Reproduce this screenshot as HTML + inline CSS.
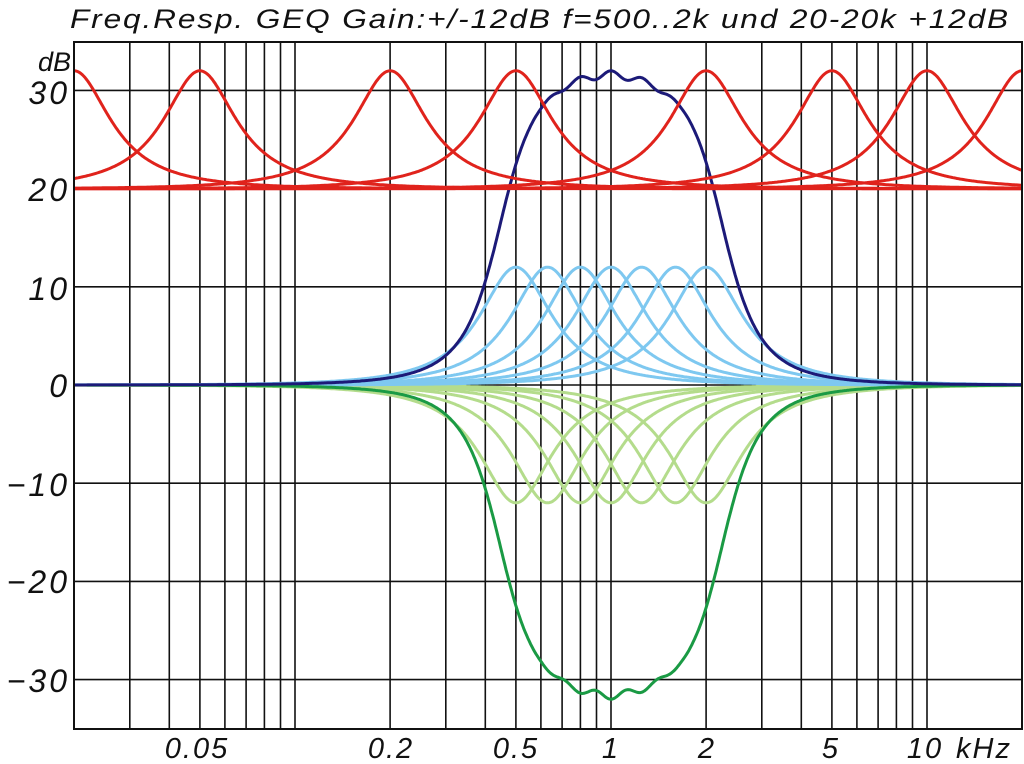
<!DOCTYPE html>
<html><head><meta charset="utf-8"><style>
html,body{margin:0;padding:0;background:#fff;}
svg{display:block;}
text{font-family:"Liberation Sans",sans-serif;font-style:italic;fill:#111;}
</style></head><body>
<svg id="s" width="1024" height="764" xmlns="http://www.w3.org/2000/svg">
<text x="540" y="28" font-size="27" text-anchor="middle" letter-spacing="1.6" textLength="940" lengthAdjust="spacingAndGlyphs">Freq.Resp.  GEQ  Gain:+/-12dB  f=500..2k  und  20-20k  +12dB</text>
<text x="71" y="71" font-size="27" text-anchor="end">dB</text>
<g font-size="32" text-anchor="end" letter-spacing="3">
<text x="70" y="104">30</text>
<text x="70" y="201">20</text>
<text x="70" y="300">10</text>
<text x="70" y="397">0</text>
<text x="70" y="496">−10</text>
<text x="70" y="593">−20</text>
<text x="70" y="692">−30</text>
</g>
<g font-size="29" text-anchor="middle" letter-spacing="2">
<text x="197" y="758">0.05</text>
<text x="391" y="758">0.2</text>
<text x="516" y="758">0.5</text>
<text x="611" y="758">1</text>
<text x="707" y="758">2</text>
<text x="831" y="758">5</text>
<text x="925" y="758">10</text>
<text x="984" y="758">kHz</text>
</g>
<g id="grid" stroke="#111" stroke-width="1.6" fill="none"></g>
<g id="curves" fill="none" stroke-width="3" stroke-linejoin="round"></g>
<rect x="74" y="42" width="948" height="687" fill="none" stroke="#111" stroke-width="2"/>
</svg>
<script>
function X(f){return 611+316*Math.log10(f);}
function Y(d){return 385-d*9.82;}
var g=document.getElementById('grid'),h='';
var fs=[];
for(var dec=0.01;dec<10;dec*=10){for(var k=1;k<10;k++){var f=k*dec;if(f>0.02&&f<19)fs.push(f);}}
fs.push(10);
fs.forEach(function(f){var x=X(f).toFixed(1);h+='<line x1="'+x+'" y1="42" x2="'+x+'" y2="729"/>';});
for(var d=-30;d<=30;d+=10){var y=Y(d).toFixed(1);h+='<line x1="74" y1="'+y+'" x2="1022" y2="'+y+'"/>';}
g.innerHTML=h;
var Q=1.56;
function bell(f,f0,G){var r=f/f0-f0/f;return G/(1+Q*Q*r*r);}
var N=700,freqs=[];
for(var i=0;i<=N;i++)freqs.push(Math.pow(10,Math.log10(0.02)+i/N*(Math.log10(20)-Math.log10(0.02))));
function path(fn,col){var p='';freqs.forEach(function(f,i){p+=(i?'L':'M')+X(f).toFixed(1)+','+Y(fn(f)).toFixed(1);});
return '<path d="'+p+'" stroke="'+col+'"/>';}
var c='';
var centers=[0.5,0.63,0.8,1,1.25,1.6,2];
centers.forEach(function(f0){c+=path(function(f){return -bell(f,f0,12);},'#b4dc8c');});
centers.forEach(function(f0){c+=path(function(f){return bell(f,f0,12);},'#7ec8f0');});
function raw(f){var s=0;centers.forEach(function(f0){s+=bell(f,f0,12);});return s;}
var mx=0;freqs.forEach(function(f){var s=raw(f);if(s>mx)mx=s;});
var K=1.4,A=1.8;
function sum(f){var s=raw(f)/mx;var sh=Math.tanh(K*Math.pow(s,A))/Math.tanh(K);
 var v=(0.75*sh+0.25*s)*32;
 var rip=0;var lf=Math.log2(f/0.5);if(lf>0.2&&lf<1.8)rip=-0.8*Math.pow(Math.sin(Math.PI*lf*3),2)*Math.sin(Math.PI*(lf-0.2)/1.6);
 return v+rip;}
c+=path(function(f){return -sum(f);},'#1a9a44');
c+=path(sum,'#1c1a78');
[0.02,0.05,0.2,0.5,2,5,10,20].forEach(function(f0){c+=path(function(f){return 20+bell(f,f0,12);},'#e0231c');});
document.getElementById('curves').innerHTML=c;
</script>
</body></html>
